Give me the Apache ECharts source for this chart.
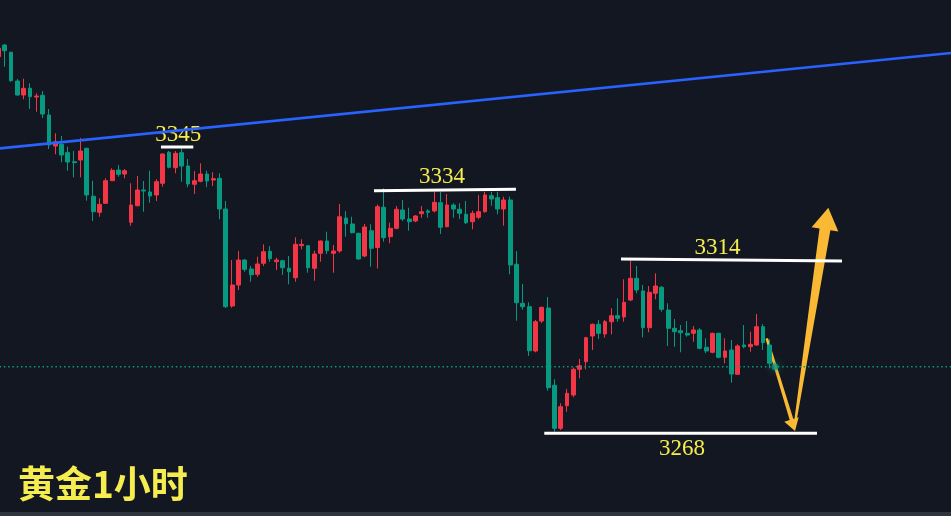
<!DOCTYPE html>
<html><head><meta charset="utf-8">
<script src="https://cdn.jsdelivr.net/npm/echarts@6/dist/echarts.min.js"></script>
<style>html,body{margin:0;padding:0;background:#131722;overflow:hidden}#c{width:951px;height:516px}</style>
</head><body><div id="c"></div>
<script>
// candles: [open, close, low, high]
const candles = [
[3369.31,3371.58,3368.4,3372.5],
[3372.46,3370.93,3366.62,3372.7],
[3370.50,3362.85,3362.58,3370.66],
[3362.77,3359.00,3358.81,3363.31],
[3359.00,3360.81,3357.84,3363.39],
[3360.81,3358.54,3355.23,3362.15],
[3358.46,3358.73,3354.50,3359.46],
[3358.92,3353.89,3352.81,3360.08],
[3353.62,3345.54,3344.46,3355.23],
[3345.27,3346.43,3343.03,3348.69],
[3345.73,3342.85,3340.88,3347.96],
[3343.47,3340.96,3338.62,3345.08],
[3341.04,3340.77,3336.84,3343.92],
[3341.50,3343.92,3336.84,3347.42],
[3344.65,3332.08,3330.54,3344.8],
[3331.73,3327.58,3325.08,3335.93],
[3327.42,3329.57,3326.23,3331.19],
[3329.84,3335.93,3329.65,3336.57],
[3335.93,3338.73,3335.85,3339.27],
[3338.81,3337.65,3337.00,3340.15],
[3337.73,3338.62,3336.57,3339.08],
[3324.73,3329.38,3323.81,3335.23],
[3329.19,3333.42,3329.03,3337.19],
[3333.42,3333.15,3327.58,3335.85],
[3332.88,3331.81,3330.00,3338.62],
[3332.08,3335.66,3330.46,3336.30],
[3335.23,3343.12,3334.31,3343.30],
[3343.57,3339.53,3339.27,3343.92],
[3339.43,3343.30,3337.92,3343.92],
[3343.47,3339.88,3335.66,3344.65],
[3339.88,3335.04,3334.15,3341.77],
[3334.96,3335.93,3332.35,3338.54],
[3335.77,3337.73,3335.50,3340.61],
[3337.73,3335.85,3334.15,3338.62],
[3336.11,3336.46,3334.50,3338.19],
[3336.57,3328.31,3325.53,3337.92],
[3328.31,3302.00,3301.7,3330.46],
[3302.19,3307.84,3301.73,3314.57],
[3307.84,3314.57,3306.50,3317.00],
[3314.57,3312.07,3311.42,3314.84],
[3312.15,3310.62,3308.73,3312.96],
[3310.73,3313.50,3310.08,3315.46],
[3313.69,3316.81,3312.96,3318.80],
[3316.92,3314.92,3314.12,3318.34],
[3314.12,3314.57,3311.88,3315.19],
[3314.39,3312.50,3310.54,3314.6],
[3312.34,3311.42,3308.03,3315.65],
[3309.81,3318.80,3308.73,3320.69],
[3318.43,3318.80,3317.46,3320.15],
[3318.43,3312.50,3311.16,3318.6],
[3312.34,3316.19,3309.00,3317.08],
[3316.38,3319.69,3314.12,3319.8],
[3319.69,3317.08,3316.19,3322.19],
[3316.38,3317.00,3311.16,3318.61],
[3317.00,3326.23,3316.54,3329.65],
[3325.88,3324.35,3320.85,3327.77],
[3324.27,3321.93,3321.76,3326.23],
[3321.76,3314.84,3314.7,3321.93],
[3315.65,3323.46,3315.30,3324.27],
[3322.46,3317.72,3312.77,3324.19],
[3317.94,3328.93,3312.29,3329.52],
[3328.76,3320.58,3319.50,3333.88],
[3320.85,3323.11,3319.07,3324.62],
[3323.11,3328.23,3322.84,3329.11],
[3328.04,3325.61,3325.08,3330.73],
[3325.61,3324.89,3322.46,3328.66],
[3325.08,3326.42,3324.73,3326.69],
[3327.04,3327.58,3325.96,3329.11],
[3327.77,3327.42,3325.96,3328.23],
[3327.77,3330.11,3327.42,3332.96],
[3330.00,3323.38,3321.58,3332.96],
[3323.54,3329.38,3323.38,3332.35],
[3329.38,3328.31,3325.96,3329.84],
[3328.23,3327.15,3325.61,3329.84],
[3326.88,3324.62,3324.27,3330.46],
[3324.89,3327.15,3322.84,3327.85],
[3326.07,3327.58,3325.53,3332.08],
[3327.58,3332.08,3327.31,3332.96],
[3331.89,3331.00,3329.19,3332.96],
[3331.35,3328.31,3326.88,3332.96],
[3328.31,3330.73,3323.81,3331.62],
[3330.73,3313.23,3310.73,3331.62],
[3313.42,3303.08,3298.23,3316.92],
[3302.92,3302.00,3301.19,3308.11],
[3302.00,3290.15,3288.73,3303.19],
[3290.07,3297.96,3289.72,3298.42],
[3298.15,3301.84,3297.61,3302.0],
[3301.65,3280.19,3279.38,3304.61],
[3280.84,3269.26,3268.35,3282.45],
[3269.26,3275.08,3268.80,3275.99],
[3275.35,3278.68,3273.73,3279.84],
[3278.23,3285.15,3277.61,3285.58],
[3285.15,3286.12,3282.72,3287.92],
[3287.19,3293.65,3285.15,3293.9],
[3294.11,3297.26,3290.34,3297.5],
[3297.26,3294.84,3293.30,3298.42],
[3294.65,3297.96,3293.65,3298.42],
[3297.96,3299.58,3294.57,3301.57],
[3299.58,3298.88,3297.96,3304.26],
[3299.23,3303.19,3297.96,3309.38],
[3303.80,3309.65,3303.53,3314.57],
[3309.65,3306.50,3305.61,3312.96],
[3306.23,3296.35,3293.76,3307.84],
[3296.35,3305.88,3295.11,3307.58],
[3305.61,3307.58,3303.99,3310.99],
[3307.22,3301.30,3300.66,3307.58],
[3301.11,3296.19,3291.42,3302.92],
[3296.19,3295.27,3291.23,3298.69],
[3295.54,3295.00,3289.72,3297.07],
[3294.84,3294.38,3293.92,3298.15],
[3294.84,3295.73,3292.58,3296.80],
[3295.73,3290.80,3290.53,3296.19],
[3291.07,3290.07,3289.46,3293.49],
[3289.72,3294.84,3289.46,3295.0],
[3294.84,3288.38,3288.11,3295.0],
[3288.38,3290.07,3286.76,3293.49],
[3290.34,3283.88,3281.54,3293.04],
[3283.80,3291.42,3283.61,3291.88],
[3291.69,3291.23,3290.80,3297.07],
[3291.23,3291.88,3289.88,3295.27],
[3291.69,3296.62,3291.5,3300.03],
[3296.62,3292.31,3290.34,3297.34],
[3291.69,3286.76,3285.42,3293.22]
];
// visible bar-slot range of the x axis (bar index units)
const slotRange = [0.2564, 150.755];
const trendLine = [[-0.5, 3344.49], [150.755, 3370.31]];
const levelLines = [
  [[25.73, 3345.0], [30.85, 3345.0]],
  [[59.44, 3333.24], [81.91, 3333.62]],
  [[98.53, 3314.84], [133.50, 3314.30]],
  [[86.39, 3267.94], [129.55, 3267.94]]
];
const levelLabels = [
  {name: '3345', value: [28.45, 3348.3]},
  {name: '3334', value: [70.2, 3337.0]},
  {name: '3314', value: [113.8, 3317.7]},
  {name: '3268', value: [108.2, 3263.8]}
];
const lastPrice = 3285.85;
const lastPriceLine = [[-0.5, lastPrice], [150.755, lastPrice]];
const lastDot = [[122.9, lastPrice]];
const arrows = [
  [121.59, 3293.49, 126.07, 3268.53],
  [126.07, 3270.6, 131.34, 3328.66]
];
const titleText = '黄金1小时';

const UP = '#f23645', DOWN = '#089981', YEL = '#f5ec50', ARROW = '#f9b934';
const arrowShapes = [
  {w0: 2.6, w1: 3.8, headLen: 12, headW: 15},
  {w0: 2.2, w1: 11, headLen: 22, headW: 27}
];

const candleData = candles.map((c, i) => [i].concat(c));

const chart = echarts.init(document.getElementById('c'), null, {renderer: 'canvas'});
const series = [
  {type: 'line', data: lastPriceLine, symbol: 'none', clip: false,
   lineStyle: {color: DOWN, width: 1.5, type: [1.5, 2.8]}, silent: true},
  {type: 'candlestick', data: candleData, barWidth: 4.3,
   encode: {x: 0, y: [1, 2, 3, 4]},
   itemStyle: {color: UP, color0: DOWN, borderColor: UP, borderColor0: DOWN, borderWidth: 1}},
  {type: 'line', data: trendLine, symbol: 'none', clip: false,
   lineStyle: {color: '#2962ff', width: 2.6}, silent: true}
];
levelLines.forEach(l => series.push({
  type: 'line', data: l, symbol: 'none', clip: false,
  lineStyle: {color: '#ffffff', width: 3}, silent: true
}));
series.push({
  type: 'scatter', data: lastDot, symbolSize: 7,
  itemStyle: {color: 'rgba(8,153,129,0.75)', opacity: 1, shadowBlur: 8, shadowColor: '#089981'}, silent: true
});
series.push({
  type: 'custom', data: arrows, clip: false,
  encode: {x: [0, 2], y: [1, 3]},
  renderItem: function (params, api) {
    const s = api.coord([api.value(0), api.value(1)]);
    const e = api.coord([api.value(2), api.value(3)]);
    const st = arrowShapes[params.dataIndex];
    const dx = e[0] - s[0], dy = e[1] - s[1], L = Math.hypot(dx, dy);
    const ux = dx / L, uy = dy / L, nx = -uy, ny = ux;
    const bx = e[0] - ux * st.headLen, by = e[1] - uy * st.headLen;
    const pts = [
      [s[0] + nx * st.w0 / 2, s[1] + ny * st.w0 / 2],
      [bx + nx * st.w1 / 2, by + ny * st.w1 / 2],
      [bx + nx * st.headW / 2, by + ny * st.headW / 2],
      [e[0], e[1]],
      [bx - nx * st.headW / 2, by - ny * st.headW / 2],
      [bx - nx * st.w1 / 2, by - ny * st.w1 / 2],
      [s[0] - nx * st.w0 / 2, s[1] - ny * st.w0 / 2]
    ];
    return {type: 'polygon', shape: {points: pts}, style: {fill: ARROW}};
  }
});
series.push({
  type: 'scatter', data: levelLabels, symbolSize: 1,
  itemStyle: {color: 'rgba(0,0,0,0)', opacity: 1}, silent: true,
  label: {show: true, position: 'inside', formatter: p => p.name, color: YEL, opacity: 1,
    fontSize: 23, fontFamily: 'Liberation Serif, DejaVu Serif, serif'}
});

chart.setOption({
  animation: false,
  backgroundColor: '#131722',
  title: {text: titleText, left: 13, top: 458,
    textStyle: {color: YEL, fontSize: 37, fontWeight: 'bold', lineHeight: 42,
      fontFamily: 'Noto Sans CJK SC'}},
  grid: {left: 0, top: 0, width: 951, height: 516, containLabel: false},
  xAxis: [{type: 'value', min: slotRange[0], max: slotRange[1], show: false, splitLine: {show: false}}],
  yAxis: [{type: 'value', min: 3245.65, max: 3384.58, show: false, splitLine: {show: false}}],
  graphic: [{type: 'rect', left: 0, top: 512, shape: {width: 951, height: 4}, style: {fill: '#30343f'}, silent: true}],
  series: series
});
</script></body></html>
